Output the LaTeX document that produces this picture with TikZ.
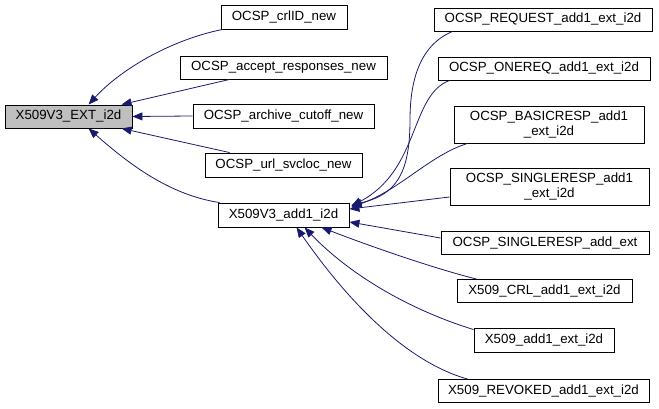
\documentclass[tikz,border=0pt]{standalone}
\usepackage{fontspec}
\setmainfont{Liberation Sans}
\usetikzlibrary{arrows.meta}
\definecolor{edgeblue}{RGB}{25,25,112}
\definecolor{boxgrey}{RGB}{191,191,191}
\begin{document}
\begin{tikzpicture}[x=1pt,y=-1pt,
  fn/.style={draw=black,line width=0.9pt,fill=white,inner sep=0pt,align=center,
    font=\fontsize{13.3}{15}\selectfont},
  cur/.style={fn,fill=boxgrey},
  call/.style={draw=edgeblue,line width=0.8pt,
    {Triangle[length=10pt,width=8pt,fill=edgeblue]}-}]
\path[use as bounding box] (0,0) rectangle (659,409);
% nodes
\node[cur,minimum width=127pt,minimum height=23pt] (ext) at (68.5,116.5) {X509V3\_EXT\_i2d};
\node[fn,minimum width=126pt,minimum height=24pt] (crlid) at (284,17) {OCSP\_crlID\_new};
\node[fn,minimum width=207pt,minimum height=23pt] (accept) at (283.5,67.5) {OCSP\_accept\_responses\_new};
\node[fn,minimum width=181pt,minimum height=24pt] (archive) at (283.5,116) {OCSP\_archive\_cutoff\_new};
\node[fn,minimum width=157pt,minimum height=24pt] (url) at (283.5,165) {OCSP\_url\_svcloc\_new};
\node[fn,minimum width=131pt,minimum height=24pt] (add1) at (283.5,215) {X509V3\_add1\_i2d};
\node[fn,minimum width=218pt,minimum height=23pt] (request) at (543,19.5) {OCSP\_REQUEST\_add1\_ext\_i2d};
\node[fn,minimum width=212pt,minimum height=23pt] (onereq) at (544,68.5) {OCSP\_ONEREQ\_add1\_ext\_i2d};
\node[fn,minimum width=190pt,minimum height=37pt] (basic) at (549,124.5) {OCSP\_BASICRESP\_add1\\\_ext\_i2d};
\node[fn,minimum width=199pt,minimum height=37pt] (single) at (549.5,186.5) {OCSP\_SINGLERESP\_add1\\\_ext\_i2d};
\node[fn,minimum width=208pt,minimum height=23pt] (addext) at (545,243) {OCSP\_SINGLERESP\_add\_ext};
\node[fn,minimum width=175pt,minimum height=23pt] (crl) at (544.5,291) {X509\_CRL\_add1\_ext\_i2d};
\node[fn,minimum width=140pt,minimum height=24pt] (xadd) at (544,340) {X509\_add1\_ext\_i2d};
\node[fn,minimum width=211pt,minimum height=23pt] (revoked) at (543.5,391) {X509\_REVOKED\_add1\_ext\_i2d};
% callers of X509V3_EXT_i2d
\draw[call] ([xshift=84pt]ext.north west) .. controls (120,70) and (170,40) .. ([xshift=2pt]crlid.south west);
\draw[call] ([xshift=117pt]ext.north west) -- ([xshift=50pt]accept.south west);
\draw[call] (ext.east) -- (archive.west);
\draw[call] ([xshift=117pt]ext.south west) -- ([xshift=25pt]url.north west);
\draw[call] ([xshift=84pt]ext.south west) .. controls (130,165) and (170,195) .. ([xshift=2pt]add1.north west);
% callers of X509V3_add1_i2d
\draw[call] ([xshift=2pt,yshift=10pt]add1.east) .. controls (395,195) and (410,175) .. (410,120) .. controls (410,80) and (420,45) .. ([xshift=19pt]request.south west);
\draw[call] ([xshift=2pt,yshift=9pt]add1.east) .. controls (420,170) and (410,95) .. ([xshift=12pt]onereq.south west);
\draw[call] ([xshift=2pt,yshift=8pt]add1.east) .. controls (400,190) and (430,155) .. ([xshift=14pt]basic.south west);
\draw[call] ([yshift=6pt]add1.east) -- ([yshift=-10.5pt]single.west);
\draw[call] ([yshift=-7pt]add1.east) -- ([yshift=5pt]addext.west);
\draw[call] ([xshift=104pt]add1.south west) .. controls (380,250) and (440,270) .. ([xshift=20pt]crl.north west);
\draw[call] ([xshift=87pt]add1.south west) .. controls (350,275) and (410,310) .. ([yshift=-2pt]xadd.north west);
\draw[call] ([xshift=79pt]add1.south west) .. controls (340,290) and (400,360) .. ([xshift=30pt]revoked.north west);
\end{tikzpicture}
\end{document}
